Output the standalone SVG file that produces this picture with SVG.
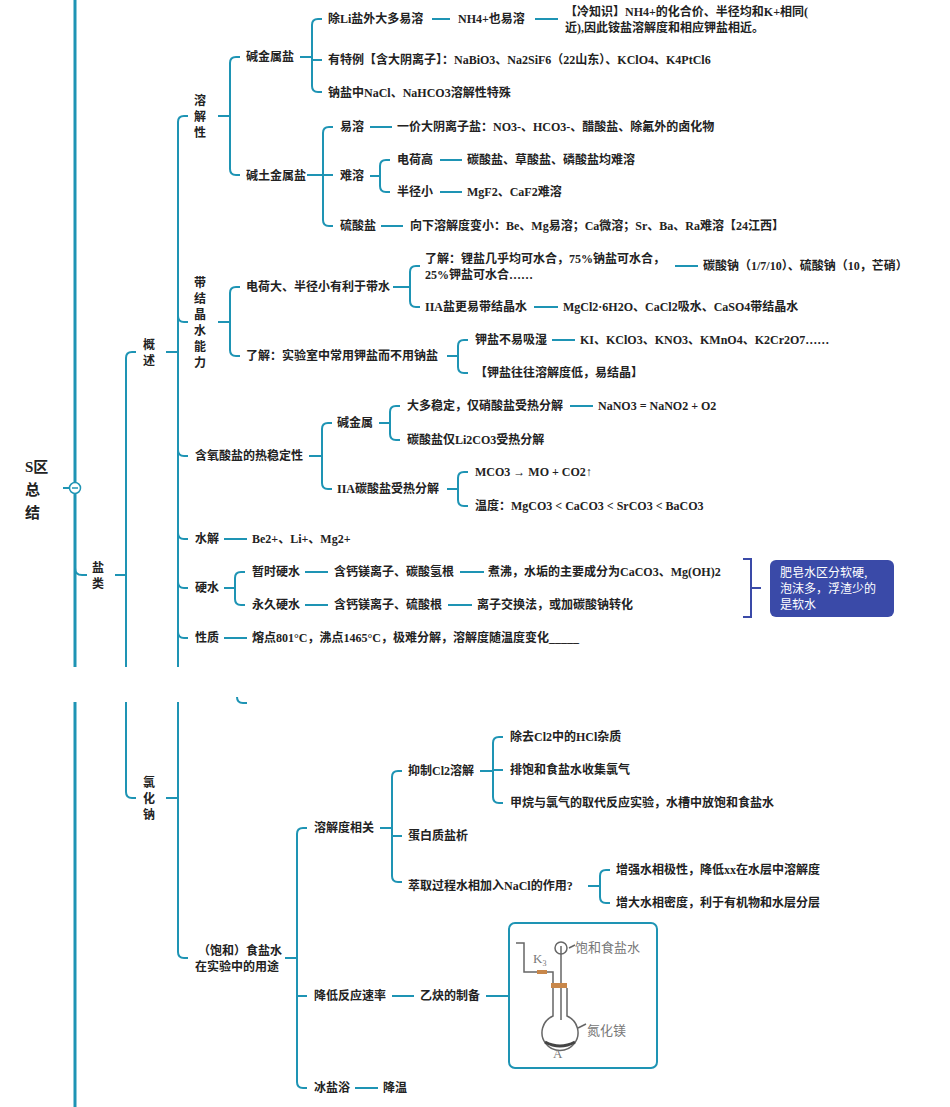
<svg xmlns="http://www.w3.org/2000/svg" width="950" height="1107" viewBox="0 0 950 1107">
<style>
text{font-family:"Liberation Serif","Noto Sans CJK SC",serif;font-size:12px;font-weight:bold;fill:#222}
.c path,.c line{stroke:#1e94b4;stroke-width:2;fill:none}
.g{font-family:"Noto Sans CJK SC",sans-serif;font-weight:normal;fill:#777;font-size:13px}
</style>
<rect width="950" height="1107" fill="#fff"/>
<g class="c" id="connectors">
<line x1="75" y1="0" x2="75" y2="667" style="stroke-width:3"/>
<line x1="75" y1="702" x2="75" y2="1107" style="stroke-width:3"/>
<line x1="63" y1="488" x2="75" y2="488"/>
<path d="M75,568 Q75,575 82,575 H87"/>
<path d="M115,575 H126"/>
<path d="M136,352 H132 Q126,352 126,358 V667 M126,702 V792 Q126,798 132,798 H136"/>
<path d="M166,352 H178 M166,798 H178"/>
<path d="M188,116 H184 Q178,116 178,122 V667 M178,702 V952 Q178,958 184,958 H188"/>
<path d="M178,316 Q178,322 184,322 H188 M178,450 Q178,456 184,456 H188 M178,533 Q178,539 184,539 H188 M178,582 Q178,588 184,588 H188 M178,632 Q178,638 184,638 H188"/>
<path d="M237,697 Q237,703 243,703 H247"/>
<path d="M218,116 H230 M240,57 H236 Q230,57 230,63 V169 Q230,175 236,175 H240"/>
<path d="M300,57 H312 M322,19 H318 Q312,19 312,25 V86 Q312,92 318,92 H322 M312,60 H322"/>
<path d="M432,19 H450 M535,19 H558"/>
<path d="M307,175 H323 M333,127 H329 Q323,127 323,133 V220 Q323,226 329,226 H333 M323,175 H333"/>
<path d="M370,127 H392 M370,176 H380 M390,160 H386 Q380,160 380,166 V186 Q380,192 386,192 H390 M440,160 H462 M440,192 H462 M381,226 H403"/>
<path d="M218,322 H230 M240,287 H236 Q230,287 230,293 V350 Q230,356 236,356 H240"/>
<path d="M393,287 H410 M420,266 H416 Q410,266 410,272 V301 Q410,307 416,307 H420 M675,266 H698 M534,307 H558"/>
<path d="M447,356 H458 M468,340 H464 Q458,340 458,346 V367 Q458,373 464,373 H468 M552,340 H575"/>
<path d="M309,456 H322 M332,423 H328 Q322,423 322,429 V483 Q322,489 328,489 H332"/>
<path d="M379,423 H390 M400,406 H396 Q390,406 390,412 V434 Q390,440 396,440 H400 M570,406 H593"/>
<path d="M447,489 H458 M468,472 H464 Q458,472 458,478 V500 Q458,506 464,506 H468"/>
<path d="M224,539 H247 M224,638 H247"/>
<path d="M224,588 H235 M245,572 H241 Q235,572 235,578 V599 Q235,605 241,605 H245 M305,572 H328 M305,605 H328 M460,572 H484 M448,605 H472"/>
<path d="M285,958 H297 M307,828 H303 Q297,828 297,834 V1082 Q297,1088 303,1088 H307 M297,996 H307"/>
<path d="M380,828 H392 M402,771 H398 Q392,771 392,777 V876 Q392,882 398,882 H402 M392,836 H402"/>
<path d="M480,771 H493 M503,737 H499 Q493,737 493,743 V797 Q493,803 499,803 H503 M493,770 H503"/>
<path d="M588,886 H600 M610,870 H606 Q600,870 600,876 V897 Q600,903 606,903 H610"/>
<path d="M392,996 H414 M486,996 H509 M355,1088 H378"/>
<path d="M743,559 H751 V617 H743 M751,588 H761" style="stroke:#3a4aa8"/>
</g>
<g id="root"><text x="25" y="472" style="font-size:15px">S区</text><text x="25" y="495" style="font-size:15px">总</text><text x="25" y="518" style="font-size:15px">结</text>
<circle cx="75" cy="488" r="5.5" fill="#fff" stroke="#1e94b4" stroke-width="1.5"/><line x1="72" y1="488" x2="78" y2="488" stroke="#1e94b4" stroke-width="1.5"/></g>
<g id="n-yanlei"><text x="92" y="572">盐</text><text x="92" y="588">类</text></g>
<g id="n-gaishu"><text x="143" y="349">概</text><text x="143" y="365">述</text></g>
<g id="n-nacl"><text x="143" y="787">氯</text><text x="143" y="803">化</text><text x="143" y="819">钠</text></g>
<g id="n-rongjie"><text x="194" y="105">溶</text><text x="194" y="121">解</text><text x="194" y="137">性</text></g>
<g id="n-jsy"><text x="246" y="61">碱金属盐</text></g>
<g id="n-a1"><text x="328" y="23">除Li盐外大多易溶</text><text x="458" y="23">NH4+也易溶</text><text x="565" y="16">【冷知识】NH4+的化合价、半径均和K+相同(</text><text x="565" y="32">近),因此铵盐溶解度和相应钾盐相近。</text></g>
<g id="n-a2"><text x="328" y="64">有特例【含大阴离子】：NaBiO3、Na2SiF6（22山东）、KClO4、K4PtCl6</text></g>
<g id="n-a3"><text x="328" y="97">钠盐中NaCl、NaHCO3溶解性特殊</text></g>
<g id="n-jtsy"><text x="246" y="180">碱土金属盐</text></g>
<g id="n-b1"><text x="340" y="131">易溶</text><text x="397" y="131">一价大阴离子盐：NO3-、HCO3-、醋酸盐、除氟外的卤化物</text></g>
<g id="n-b2"><text x="340" y="180">难溶</text><text x="397" y="164">电荷高</text><text x="467" y="164">碳酸盐、草酸盐、磷酸盐均难溶</text><text x="397" y="196">半径小</text><text x="467" y="196">MgF2、CaF2难溶</text></g>
<g id="n-b3"><text x="340" y="230">硫酸盐</text><text x="410" y="230">向下溶解度变小：Be、Mg易溶；Ca微溶；Sr、Ba、Ra难溶【24江西】</text></g>
<g id="n-jjs"><text x="194" y="287">带</text><text x="194" y="303">结</text><text x="194" y="319">晶</text><text x="194" y="335">水</text><text x="194" y="351">能</text><text x="194" y="367">力</text></g>
<g id="n-c1"><text x="246" y="291">电荷大、半径小有利于带水</text><text x="425" y="263">了解：锂盐几乎均可水合，75%钠盐可水合，</text><text x="425" y="279">25%钾盐可水合……</text><text x="703" y="270">碳酸钠（1/7/10）、硫酸钠（10，芒硝）</text><text x="425" y="311">IIA盐更易带结晶水</text><text x="563" y="311">MgCl2·6H2O、CaCl2吸水、CaSO4带结晶水</text></g>
<g id="n-c2"><text x="246" y="360">了解：实验室中常用钾盐而不用钠盐</text><text x="475" y="344">钾盐不易吸湿</text><text x="580" y="344">KI、KClO3、KNO3、KMnO4、K2Cr2O7……</text><text x="475" y="377">【钾盐往往溶解度低，易结晶】</text></g>
<g id="n-d"><text x="195" y="460">含氧酸盐的热稳定性</text><text x="337" y="427">碱金属</text><text x="407" y="410">大多稳定，仅硝酸盐受热分解</text><text x="598" y="410">NaNO3 = NaNO2 + O2</text><text x="407" y="444">碳酸盐仅Li2CO3受热分解</text><text x="337" y="493">IIA碳酸盐受热分解</text><text x="475" y="476">MCO3 → MO + CO2↑</text><text x="475" y="510">温度：MgCO3 &lt; CaCO3 &lt; SrCO3 &lt; BaCO3</text></g>
<g id="n-e"><text x="195" y="543">水解</text><text x="252" y="543">Be2+、Li+、Mg2+</text></g>
<g id="n-f"><text x="195" y="592">硬水</text><text x="252" y="576">暂时硬水</text><text x="334" y="576">含钙镁离子、碳酸氢根</text><text x="488" y="576">煮沸，水垢的主要成分为CaCO3、Mg(OH)2</text><text x="252" y="609">永久硬水</text><text x="334" y="609">含钙镁离子、硫酸根</text><text x="477" y="609">离子交换法，或加碳酸钠转化</text></g>
<g id="n-note"><rect x="770" y="560" width="124" height="57" rx="6" fill="#3a4aa8"/><text x="780" y="577" style="fill:#fff;font-weight:normal;font-family:'Noto Sans CJK SC',sans-serif">肥皂水区分软硬,</text><text x="780" y="593" style="fill:#fff;font-weight:normal;font-family:'Noto Sans CJK SC',sans-serif">泡沫多，浮渣少的</text><text x="780" y="609" style="fill:#fff;font-weight:normal;font-family:'Noto Sans CJK SC',sans-serif">是软水</text></g>
<g id="n-g"><text x="195" y="642">性质</text><text x="252" y="642">熔点801°C，沸点1465°C，极难分解，溶解度随温度变化_____</text></g>
<g id="n-h"><text x="198" y="955">（饱和）食盐水</text><text x="195" y="971">在实验中的用途</text></g>
<g id="n-h1"><text x="314" y="832">溶解度相关</text><text x="408" y="775">抑制Cl2溶解</text><text x="510" y="741">除去Cl2中的HCl杂质</text><text x="510" y="774">排饱和食盐水收集氯气</text><text x="510" y="807">甲烷与氯气的取代反应实验，水槽中放饱和食盐水</text><text x="408" y="840">蛋白质盐析</text><text x="408" y="890">萃取过程水相加入NaCl的作用?</text><text x="616" y="874">增强水相极性，降低xx在水层中溶解度</text><text x="616" y="907">增大水相密度，利于有机物和水层分层</text></g>
<g id="n-h2"><text x="314" y="1000">降低反应速率</text><text x="420" y="1000">乙炔的制备</text></g>
<g id="n-img"><rect x="509" y="923" width="148" height="145" rx="6" fill="#fff" stroke="#1e94b4" stroke-width="2"/>
<g fill="none" stroke="#666" stroke-width="1.5"><path d="M516,943 H524 V972 H553 V984"/><path d="M561,946 V1020"/><circle cx="561" cy="948" r="6"/><path d="M553,988 V1016 A18,18 0 1 0 567,1016 V988"/><path d="M569,948 L575,945 M578,1028 L586,1024"/></g>
<rect x="537" y="970" width="10" height="4" fill="#c8874a"/><rect x="551" y="983" width="16" height="5" fill="#c8874a"/><path d="M545,1042 Q560,1050 575,1042" stroke="#444" stroke-width="3" fill="none"/>
<text x="533" y="963" class="g" style="font-family:'Liberation Serif',serif">K<tspan font-size="8" dy="3">3</tspan></text><text x="575" y="952" class="g">饱和食盐水</text><text x="587" y="1035" class="g">氮化镁</text><text x="553" y="1058" class="g" style="font-family:'Liberation Serif',serif">A</text></g>
<g id="n-h3"><text x="314" y="1092">冰盐浴</text><text x="383" y="1092">降温</text></g>
</svg>
